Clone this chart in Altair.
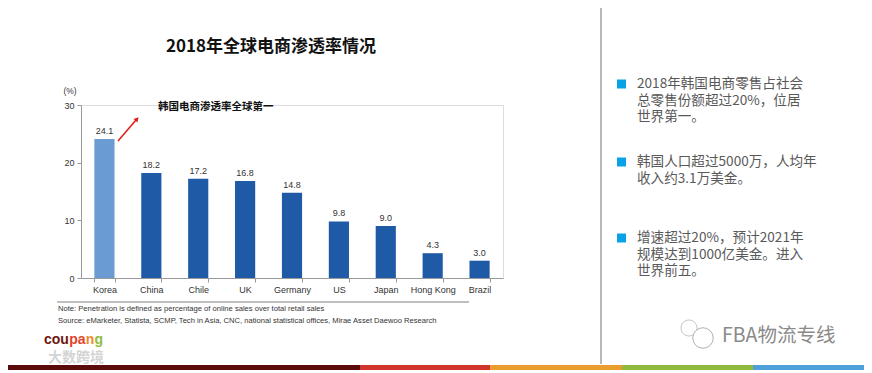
import altair as alt
import pandas as pd

countries = ["Korea", "China", "Chile", "UK", "Germany", "US", "Japan", "Hong Kong", "Brazil"]
values = [24.1, 18.2, 17.2, 16.8, 14.8, 9.8, 9.0, 4.3, 3.0]
y_ticks = [0, 10, 20, 30]

title_text = "2018年全球电商渗透率情况"
annot_text = "韩国电商渗透率全球第一"
unit_text = "(%)"
note_lines = [
    "Note: Penetration is defined as percentage of online sales over total retail sales",
    "Source: eMarketer, Statista, SCMP, Tech in Asia, CNC, national statistical offices, Mirae Asset Daewoo Research",
]
bullet_blocks = [
    ["2018年韩国电商零售占社会", "总零售份额超过20%，位居", "世界第一。"],
    ["韩国人口超过5000万，人均年", "收入约3.1万美金。"],
    ["增速超过20%，预计2021年", "规模达到1000亿美金。进入", "世界前五。"],
]
watermark_text = "FBA物流专线"
logo_parts = ["cou", "pa", "n", "g"]
logo_sub = "大数跨境"

# layout (page pixels -> plot coordinates)
PAD_L, PAD_T = 73, 97
W, H = 422, 173
TOTAL_W, TOTAL_H = 856, 362


def px(x):
    return x - (8 + PAD_L)


def py(y):
    return y - (8 + PAD_T)


NARROW = "Liberation Sans Narrow, Arial Narrow, Liberation Sans, Arial"
CJK = "Noto Sans CJK SC"

df = pd.DataFrame({"country": countries, "value": values})

x_enc = alt.X(
    "country:N", sort=countries, title=None,
    scale=alt.Scale(paddingInner=0.57, paddingOuter=0.285),
    axis=alt.Axis(labelAngle=0, labelFont=NARROW, labelFontSize=9, labelColor="#333",
                  domainColor="#999", tickColor="#999", tickSize=4, tickBand="extent",
                  labelPadding=3),
)
y_enc = alt.Y(
    "value:Q", title=None,
    scale=alt.Scale(domain=[0, 30], nice=False),
    axis=alt.Axis(values=y_ticks, grid=False, labelFont=NARROW, labelFontSize=9,
                  labelColor="#333", domainColor="#999", tickColor="#999", tickSize=4,
                  labelPadding=3),
)

bars = alt.Chart(df).mark_bar().encode(
    x=x_enc, y=y_enc,
    color=alt.condition(alt.datum.country == "Korea", alt.value("#6a9bd3"), alt.value("#1f5aa6")),
)
labels = alt.Chart(df).mark_text(dy=-8, font=NARROW, fontSize=9, color="#333").encode(
    x=alt.X("country:N", sort=countries), y="value:Q", text=alt.Text("value:Q", format=".1f")
)

layers = [bars, labels]


def txt(s, x, y, **kw):
    return alt.Chart(pd.DataFrame({"t": [s]})).mark_text(**kw).encode(
        text="t:N", x=alt.value(x), y=alt.value(y)
    )


def rule(x1, y1, x2, y2, color, width):
    return alt.Chart(pd.DataFrame({"a": [0]})).mark_rule(color=color, strokeWidth=width).encode(
        x=alt.value(x1), y=alt.value(y1), x2=alt.value(x2), y2=alt.value(y2)
    )


def rect(x1, y1, x2, y2, color):
    return alt.Chart(pd.DataFrame({"a": [0]})).mark_rect(color=color).encode(
        x=alt.value(x1), y=alt.value(y1), x2=alt.value(x2), y2=alt.value(y2)
    )


# title
layers.append(txt(title_text, px(271), py(47), font=CJK, fontSize=17, fontWeight="bold",
                  color="#111", align="center", baseline="middle"))
# unit label
layers.append(txt(unit_text, px(70), py(91), font=NARROW, fontSize=8.5, color="#333",
                  align="center", baseline="middle"))
# annotation
layers.append(txt(annot_text, px(158), py(107), font=CJK, fontSize=10.5, fontWeight="bold",
                  color="#111", align="left", baseline="middle"))
# arrow
layers.append(rule(px(118), py(141), px(136), py(120), "#e0201c", 1.6))
layers.append(
    alt.Chart(pd.DataFrame({"a": [0]})).mark_point(shape="triangle-up", filled=True, size=28,
                                                     angle=41, color="#e0201c", opacity=1).encode(
        x=alt.value(px(137)), y=alt.value(py(119)))
)
# separator and notes
layers.append(rule(px(57), py(302), px(469), py(302), "#aaaaaa", 1.5))
for i, line in enumerate(note_lines):
    layers.append(txt(line, px(58), py(309 + 11.5 * i), font=NARROW, fontSize=7.6, color="#333",
                      align="left", baseline="middle"))

# right panel divider
layers.append(rule(px(601), py(8), px(601), py(364), "#a0a0a0", 1.5))

# bullets
block_y = [84, 162, 238]
for by, block in zip(block_y, bullet_blocks):
    layers.append(rect(px(617), py(by - 4.5), px(626), py(by + 4.5), "#0aa2e6"))
    for j, line in enumerate(block):
        layers.append(txt(line, px(637), py(by + 16.5 * j), font=CJK, fontSize=13.6,
                          color="#595959", align="left", baseline="middle"))

# wechat-like watermark
layers.append(
    alt.Chart(pd.DataFrame({"a": [0]})).mark_point(shape="circle", filled=False, size=260,
                                                     color="#b0b0b0", strokeWidth=1).encode(
        x=alt.value(px(689)), y=alt.value(py(328)))
)
layers.append(
    alt.Chart(pd.DataFrame({"a": [0]})).mark_point(shape="circle", filled=True, size=420,
                                                     fill="white", stroke="#b0b0b0", strokeWidth=1,
                                                     opacity=1).encode(
        x=alt.value(px(703)), y=alt.value(py(338)))
)
layers.append(txt(watermark_text, px(722), py(336), font=CJK, fontSize=19.5, color="#8a8a8a",
                  align="left", baseline="middle"))

# logo
logo_colors = ["#6e1612", "#e2432b", "#f08a2a", "#8dbf3f"]
logo_x = [44, 69.2, 85.7, 94.4]
for part, col, lx in zip(logo_parts, logo_colors, logo_x):
    layers.append(txt(part, px(lx), py(344), font="Liberation Sans", fontSize=14,
                      fontWeight="bold", color=col, align="left", baseline="alphabetic"))
layers.append(txt(logo_sub, px(48), py(358), font=CJK, fontSize=14, fontWeight="bold",
                  color="#d4d4d4", align="left", baseline="middle"))

# bottom stripe
stripe = [(0, 360, "#5a0a0a"), (360, 490, "#d1342b"), (490, 622, "#eb9c2f"),
          (622, 753, "#8fba3f"), (753, 872, "#4da0da")]
for x1, x2, col in stripe:
    layers.append(rect(px(max(x1, 8)), py(365), px(min(x2, 8 + TOTAL_W)), py(370), col))

chart = alt.layer(*layers).properties(
    width=W, height=H,
    autosize=alt.AutoSizeParams(type="none"),
    padding={"left": PAD_L, "top": PAD_T, "right": TOTAL_W - PAD_L - W,
             "bottom": TOTAL_H - PAD_T - H},
).configure_view(stroke=None).configure(background="white")

chart.save("out.html", embed_options={"renderer": "svg", "actions": False})
